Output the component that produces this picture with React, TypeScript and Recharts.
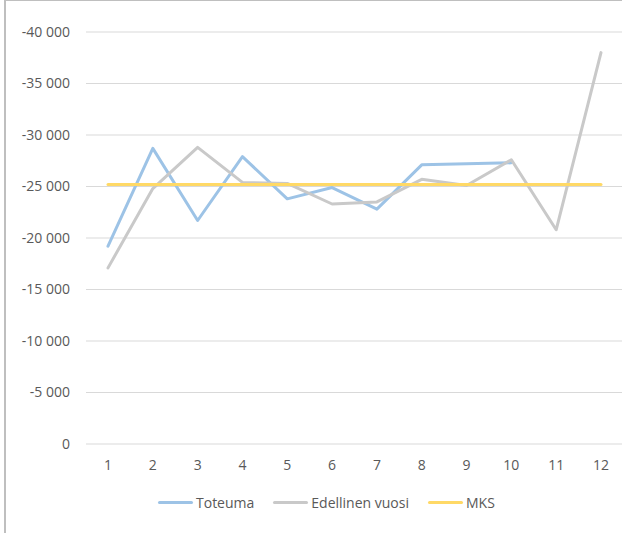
import React from 'react';
import { LineChart, Line, XAxis, YAxis, CartesianGrid, Legend } from 'recharts';

const months = ['1', '2', '3', '4', '5', '6', '7', '8', '9', '10', '11', '12'];
const toteuma = [-19200, -28700, -21700, -27900, -23800, -24900, -22800, -27100, -27200, -27300, null, null];
const edellinenVuosi = [-17100, -24800, -28800, -25400, -25300, -23300, -23500, -25700, -25100, -27600, -20800, -38000];
const mks = [-25200, -25200, -25200, -25200, -25200, -25200, -25200, -25200, -25200, -25200, -25200, -25200];
const yTicks = [-40000, -35000, -30000, -25000, -20000, -15000, -10000, -5000, 0];
const seriesOrder = ['Toteuma', 'Edellinen vuosi', 'MKS'];

const data = months.map((m, i) => ({
  month: m,
  Toteuma: toteuma[i],
  'Edellinen vuosi': edellinenVuosi[i],
  MKS: mks[i],
}));

const FONT = '"Open Sans", "Noto Sans", sans-serif';
const TEXT = '#595959';
const FS = 14;

const fmt = (v: number) => String(v).replace(/\B(?=(\d{3})+(?!\d))/g, '\u00a0');

const LegendContent = (props: any) => {
  const payload = [...(props.payload || [])].sort(
    (a: any, b: any) => seriesOrder.indexOf(a.value) - seriesOrder.indexOf(b.value)
  );
  return (
    <div style={{ display: 'flex', alignItems: 'center', height: 20, paddingLeft: 158, fontFamily: FONT, fontSize: FS, color: TEXT }}>
      {payload.map((p: any, i: number) => (
        <div key={i} style={{ display: 'flex', alignItems: 'center', marginRight: 19 }}>
          <div style={{ width: 35, height: 3, background: p.color, borderRadius: 1.5 }} />
          <span style={{ marginLeft: 3, whiteSpace: 'nowrap' }}>{p.value}</span>
        </div>
      ))}
    </div>
  );
};

export default function App() {
  return (
    <div style={{ position: 'fixed', left: 0, top: 0, width: 622, height: 533, overflow: 'hidden', background: '#fff' }}>
      <div style={{ position: 'absolute', left: 4, top: 0, width: 700, height: 600, borderTop: '1px solid #bfbfbf', borderLeft: '2px solid #bfbfbf' }} />
      <div style={{ position: 'absolute', left: 0, top: 0 }}>
        <LineChart
          width={640}
          height={533}
          data={data}
          margin={{ top: 32, right: 17, bottom: 21, left: 0 }}
          style={{ fontFamily: FONT }}
        >
          <CartesianGrid vertical={false} stroke="#d9d9d9" strokeWidth={1} />
          <XAxis
            dataKey="month"
            axisLine={false}
            tickLine={false}
            tickSize={0}
            tickMargin={16}
            height={48}
            padding={{ left: 22, right: 22 }}
            tick={{ fill: TEXT, fontSize: FS }}
            interval={0}
          />
          <YAxis
            type="number"
            domain={[-40000, 0]}
            ticks={yTicks}
            reversed
            width={86}
            axisLine={false}
            tickLine={false}
            tickSize={0}
            tickMargin={16}
            tickFormatter={fmt}
            tick={{ fill: TEXT, fontSize: FS }}
            interval={0}
          />
          <Legend verticalAlign="bottom" content={<LegendContent />} />
          <Line type="linear" dataKey="Toteuma" stroke="#9dc3e6" strokeWidth={3} dot={false} isAnimationActive={false} strokeLinejoin="round" strokeLinecap="round" />
          <Line type="linear" dataKey="Edellinen vuosi" stroke="#c9c9c9" strokeWidth={3} dot={false} isAnimationActive={false} strokeLinejoin="round" strokeLinecap="round" />
          <Line type="linear" dataKey="MKS" stroke="#ffd966" strokeWidth={3} dot={false} isAnimationActive={false} strokeLinejoin="round" strokeLinecap="round" />
        </LineChart>
      </div>
    </div>
  );
}
